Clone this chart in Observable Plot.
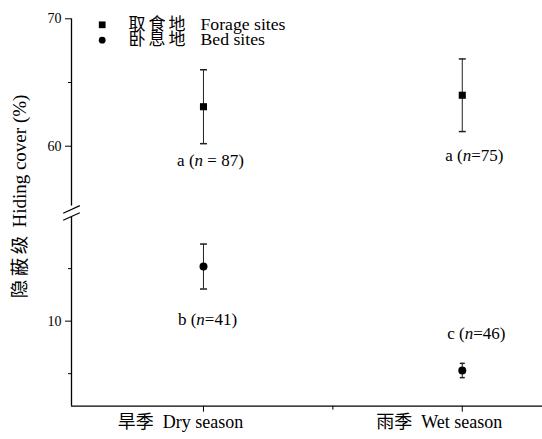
<!DOCTYPE html>
<html><head><meta charset="utf-8">
<script src="https://cdn.jsdelivr.net/npm/d3@7"></script>
<script src="https://cdn.jsdelivr.net/npm/@observablehq/plot@0.6"></script>
<style>body{margin:0;background:#fff} #chart{width:542px;height:439px;overflow:hidden}</style>
</head><body><div id="chart"></div>
<script>
// ---- data ----
const seasonsZh = ["旱季", "雨季"];
const seasonsEn = ["Dry season", "Wet season"];
const seasonPos = [1, 2];
const siteTypesZh = ["取食地", "卧息地"];
const siteTypesEn = ["Forage sites", "Bed sites"];
const forageMean = [63.1, 64.0];
const forageErr = [2.9, 2.85];
const forageLetter = ["a", "a"];
const forageN = [87, 75];
const bedMean = [12.6, 7.65];
const bedErr = [1.07, 0.34];
const bedLetter = ["b", "c"];
const bedN = [41, 46];
const yTicksMajor = [10, 60, 70];
const yTicksMinor = [7.5, 12.5, 65];
const xTicksMinor = [1.5];
const yLabelZh = "隐蔽级";
const yLabelEn = "Hiding cover (%)";
// axis extents (broken axis)
const xExtent = [0.49, 2.31];
const yLower = [5.95, 14.95];
const yUpper = [55.3, 70];

// ---- build rows ----
const rows = [];
seasonPos.forEach((x, i) => {
  rows.push({site: "forage", season: i, x, mean: forageMean[i], lo: forageMean[i] - forageErr[i], hi: forageMean[i] + forageErr[i], letter: forageLetter[i], n: forageN[i]});
});
seasonPos.forEach((x, i) => {
  rows.push({site: "bed", season: i, x, mean: bedMean[i], lo: bedMean[i] - bedErr[i], hi: bedMean[i] + bedErr[i], letter: bedLetter[i], n: bedN[i]});
});
const seasonRows = seasonPos.map((x, i) => ({x, zh: seasonsZh[i], en: seasonsEn[i]}));
const NB = "\u00a0";

// ---- styling for labels ----
const labelPlace = [
  {anchor: "lo", dx: 7, dy: 17, sep: NB + "=" + NB},
  {anchor: "lo", dx: 12, dy: 24, sep: "=" },
  {anchor: "lo", dx: 4, dy: 31, sep: "="},
  {anchor: "hi", dx: 14, dy: -30, sep: "="}
];

const hline = {draw(ctx, size) { const r = Math.sqrt(size / Math.PI); ctx.moveTo(-r, 0); ctx.lineTo(r, 0); }};
const slash = {draw(ctx, size) { const r = Math.sqrt(size / Math.PI); ctx.moveTo(-r, 0.46 * r); ctx.lineTo(r, -0.46 * r); }};

const labelMarks = rows.map((d, i) => Plot.text([d], {
  x: "x", y: labelPlace[i].anchor,
  text: r => `${r.letter}${NB}(n${labelPlace[i].sep}${r.n})`,
  dx: labelPlace[i].dx, dy: labelPlace[i].dy,
  fontSize: 17, fill: "black"
}));

const plot = Plot.plot({
  width: 542, height: 439,
  marginLeft: 71, marginRight: 0, marginTop: 0, marginBottom: 33.3,
  style: {fontFamily: "'Liberation Serif','Noto Sans CJK SC',serif", fontSize: "13px", color: "black", background: "white"},
  x: {type: "linear", domain: xExtent, label: null},
  y: {type: "linear", domain: [yLower[0], yLower[1], yUpper[0], yUpper[1]], range: [405.7, 216.7, 205.6, 18.3], label: null},
  marks: [
    // axes lines
    Plot.ruleY([yLower[0]], {stroke: "black", strokeWidth: 1.3}),
    Plot.ruleX([yLower, yUpper], {x: xExtent[0], y1: d => d[0], y2: d => d[1], stroke: "black", strokeWidth: 1.3}),
    Plot.dot([yUpper[0]], {x: xExtent[0], y: d => d, symbol: slash, r: 8.3, stroke: "black", strokeWidth: 1.2, dy: 3.3}),
    Plot.dot([yLower[1]], {x: xExtent[0], y: d => d, symbol: slash, r: 8.3, stroke: "black", strokeWidth: 1.2, dy: -0.7}),
    Plot.axisY(yTicksMajor, {anchor: "left", tickSize: 6, tickPadding: 4, fontSize: 14, fill: "black", stroke: "black", label: null}),
    Plot.axisY(yTicksMinor, {anchor: "left", tickSize: 3, tickFormat: () => "", stroke: "black", label: null}),
    Plot.axisX(seasonPos, {anchor: "bottom", tickSize: 6, tickFormat: () => "", stroke: "black", label: null}),
    Plot.axisX(xTicksMinor, {anchor: "bottom", tickSize: 4, tickFormat: () => "", stroke: "black", label: null}),
    Plot.text(seasonRows, {x: "x", frameAnchor: "bottom", dy: 16.5, dx: -23, text: d => d.zh + NB + NB + d.en, fontSize: 18, lineAnchor: "middle", fill: "black"}),
    // error bars
    Plot.ruleX(rows, {x: "x", y1: "lo", y2: "hi", stroke: "#222", strokeWidth: 1}),
    Plot.dot(rows.filter(d => !(d.site === "bed" && d.season === 1)), {x: "x", y: "hi", symbol: hline, r: 3.5, stroke: "#222"}),
    Plot.dot(rows.filter(d => !(d.site === "bed" && d.season === 1)), {x: "x", y: "lo", symbol: hline, r: 3.5, stroke: "#222"}),
    Plot.dot(rows.filter(d => d.site === "bed" && d.season === 1), {x: "x", y: "hi", symbol: hline, r: 2.5, stroke: "#222"}),
    Plot.dot(rows.filter(d => d.site === "bed" && d.season === 1), {x: "x", y: "lo", symbol: hline, r: 2.5, stroke: "#222"}),
    // points
    Plot.dot(rows.filter(d => d.site === "forage"), {x: "x", y: "mean", symbol: "square", r: 4, fill: "black"}),
    Plot.dot(rows.filter(d => d.site === "bed"), {x: "x", y: "mean", symbol: "circle", r: 4, fill: "black"}),
    ...labelMarks,
    // legend
    Plot.dot([siteTypesZh[0]], {frameAnchor: "top-left", dx: 30.7, dy: 24.3, symbol: "square", r: 3.8, fill: "black"}),
    Plot.dot([siteTypesZh[1]], {frameAnchor: "top-left", dx: 30.7, dy: 39.7, symbol: "circle", r: 3.4, fill: "black"}),
    Plot.text([siteTypesZh.join("\n")], {frameAnchor: "top-left", dx: 57, dy: 32, text: d => d, textAnchor: "start", lineAnchor: "middle", lineHeight: 15.4 / 17, fontSize: 17, fill: "black"}),
    Plot.text([siteTypesEn.join("\n")], {frameAnchor: "top-left", dx: 129, dy: 32, text: d => d, textAnchor: "start", lineAnchor: "middle", lineHeight: 15.4 / 17.7, fontSize: 17.7, fill: "black"}),
    // y label
    Plot.text([yLabelEn], {frameAnchor: "top-left", dx: -52, dy: 196, rotate: -90, text: d => yLabelZh + NB + d, fontSize: 19, textAnchor: "middle", lineAnchor: "middle", fill: "black"})
  ]
});
document.getElementById("chart").appendChild(plot);

const ns = "http://www.w3.org/2000/svg";
plot.querySelectorAll("text").forEach(t => {
  const s = t.textContent;
  if (s === siteTypesZh.join("")) { t.setAttribute("letter-spacing", "3"); return; }
  if (t.querySelector("tspan")) return;
  const k = s.indexOf("(n");
  if (k >= 0 && s.length < 16) {
    // italic n in stat labels
    t.textContent = "";
    const a = document.createElementNS(ns, "tspan"); a.textContent = s.slice(0, k + 1);
    const b = document.createElementNS(ns, "tspan"); b.textContent = "n"; b.setAttribute("font-style", "italic");
    const c = document.createElementNS(ns, "tspan"); c.textContent = s.slice(k + 2);
    t.append(a, b, c);
  } else if (s.startsWith(yLabelZh)) {
    // spaced CJK in y label
    t.textContent = "";
    const a = document.createElementNS(ns, "tspan"); a.textContent = yLabelZh; a.setAttribute("font-size", "18.5"); a.setAttribute("letter-spacing", "3.5");
    const b = document.createElementNS(ns, "tspan"); b.textContent = NB + s.slice(yLabelZh.length + 1);
    t.append(a, b);
  }
});
</script>
</body></html>
